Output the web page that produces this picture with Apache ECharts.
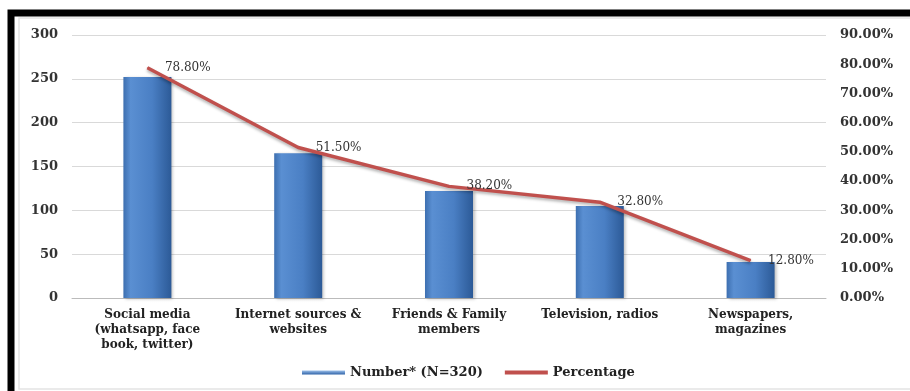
<!DOCTYPE html>
<html><head><meta charset="utf-8">
<script src="https://cdn.jsdelivr.net/npm/echarts@6/dist/echarts.min.js"></script>
<style>html,body{margin:0;padding:0;background:#fff;}#c{width:910px;height:391px;}</style>
</head><body><div id="c"></div>
<script>
const categories = ["Social media\n(whatsapp, face\nbook, twitter)", "Internet sources &\nwebsites", "Friends & Family\nmembers", "Television, radios", "Newspapers,\nmagazines"];
const numbers = [252, 165, 122, 105, 41];
const percentages = [78.8, 51.5, 38.2, 32.8, 12.8];
const leftTicks = [0, 300, 50];
const rightTicks = [0, 90, 10];

const chart = echarts.init(document.getElementById('c'));
const serif = '"DejaVu Serif", "Liberation Serif", serif';
chart.setOption({
  animation: false,
  backgroundColor: '#fff',
  graphic: [
    { type: 'rect', shape: { x: 19, y: 18, width: 900, height: 371 }, style: { fill: 'none', stroke: '#e4e4e4', lineWidth: 1.5 }, z: -1 },
    { type: 'rect', shape: { x: 11, y: 13, width: 910, height: 400 }, style: { fill: 'none', stroke: '#000', lineWidth: 7 } }
  ],
  grid: { left: 72, right: 84, top: 35, bottom: 93 },
  legend: {
    bottom: 7, left: 297, itemGap: 22,
    textStyle: { fontFamily: serif, fontWeight: 'bold', fontSize: 13, color: '#222' },
    data: [
      { name: 'Number* (N=320)', icon: 'rect', itemStyle: { color: new echarts.graphic.LinearGradient(0,0,0,1,[{offset:0,color:'#9dc0ea'},{offset:1,color:'#2f63a8'}]) } },
      { name: 'Percentage', icon: 'rect', itemStyle: { color: '#c0504d' } }
    ],
    itemWidth: 43, itemHeight: 4
  },
  xAxis: {
    type: 'category', data: categories,
    axisLine: { lineStyle: { color: '#bbb' } },
    axisTick: { show: false },
    axisLabel: { fontFamily: serif, fontWeight: 'bold', fontSize: 12, color: '#222', lineHeight: 15, interval: 0, margin: 9 }
  },
  yAxis: [
    { type: 'value', min: leftTicks[0], max: leftTicks[1], interval: leftTicks[2],
      axisLabel: { fontFamily: serif, fontWeight: 'bold', fontSize: 13, color: '#333', margin: 14 },
      splitLine: { lineStyle: { color: '#d9d9d9' } }, axisLine: { show: false }, axisTick: { show: false } },
    { type: 'value', min: rightTicks[0], max: rightTicks[1], interval: rightTicks[2],
      axisLabel: { fontFamily: serif, fontWeight: 'bold', fontSize: 13, color: '#333', margin: 14, formatter: v => v.toFixed(2) + '%' },
      splitLine: { show: false }, axisLine: { show: false }, axisTick: { show: false } }
  ],
  series: [
    { name: 'Number* (N=320)', type: 'bar', data: numbers, barWidth: 48, yAxisIndex: 0,
      itemStyle: {
        color: new echarts.graphic.LinearGradient(0,0,1,0,[
          {offset:0,color:'#3d6fb0'},{offset:0.15,color:'#5a8fd2'},{offset:0.6,color:'#4a7fc4'},{offset:1,color:'#2c5a97'}]),
        shadowColor: 'rgba(0,0,0,0.25)', shadowBlur: 3, shadowOffsetX: 2, shadowOffsetY: 1
      } },
    { name: 'Percentage', type: 'line', data: percentages, yAxisIndex: 1,
      symbol: 'circle', symbolSize: 1, smooth: false,
      lineStyle: { color: '#c0504d', width: 3.5, shadowColor: 'rgba(0,0,0,0.3)', shadowBlur: 3, shadowOffsetY: 2 },
      itemStyle: { color: '#c0504d' },
      label: { show: true, position: 'right', distance: 17, offset: [0, 0], fontFamily: serif, fontSize: 12, color: '#333', formatter: p => p.value.toFixed(2) + '%' } }
  ]
});
</script></body></html>
